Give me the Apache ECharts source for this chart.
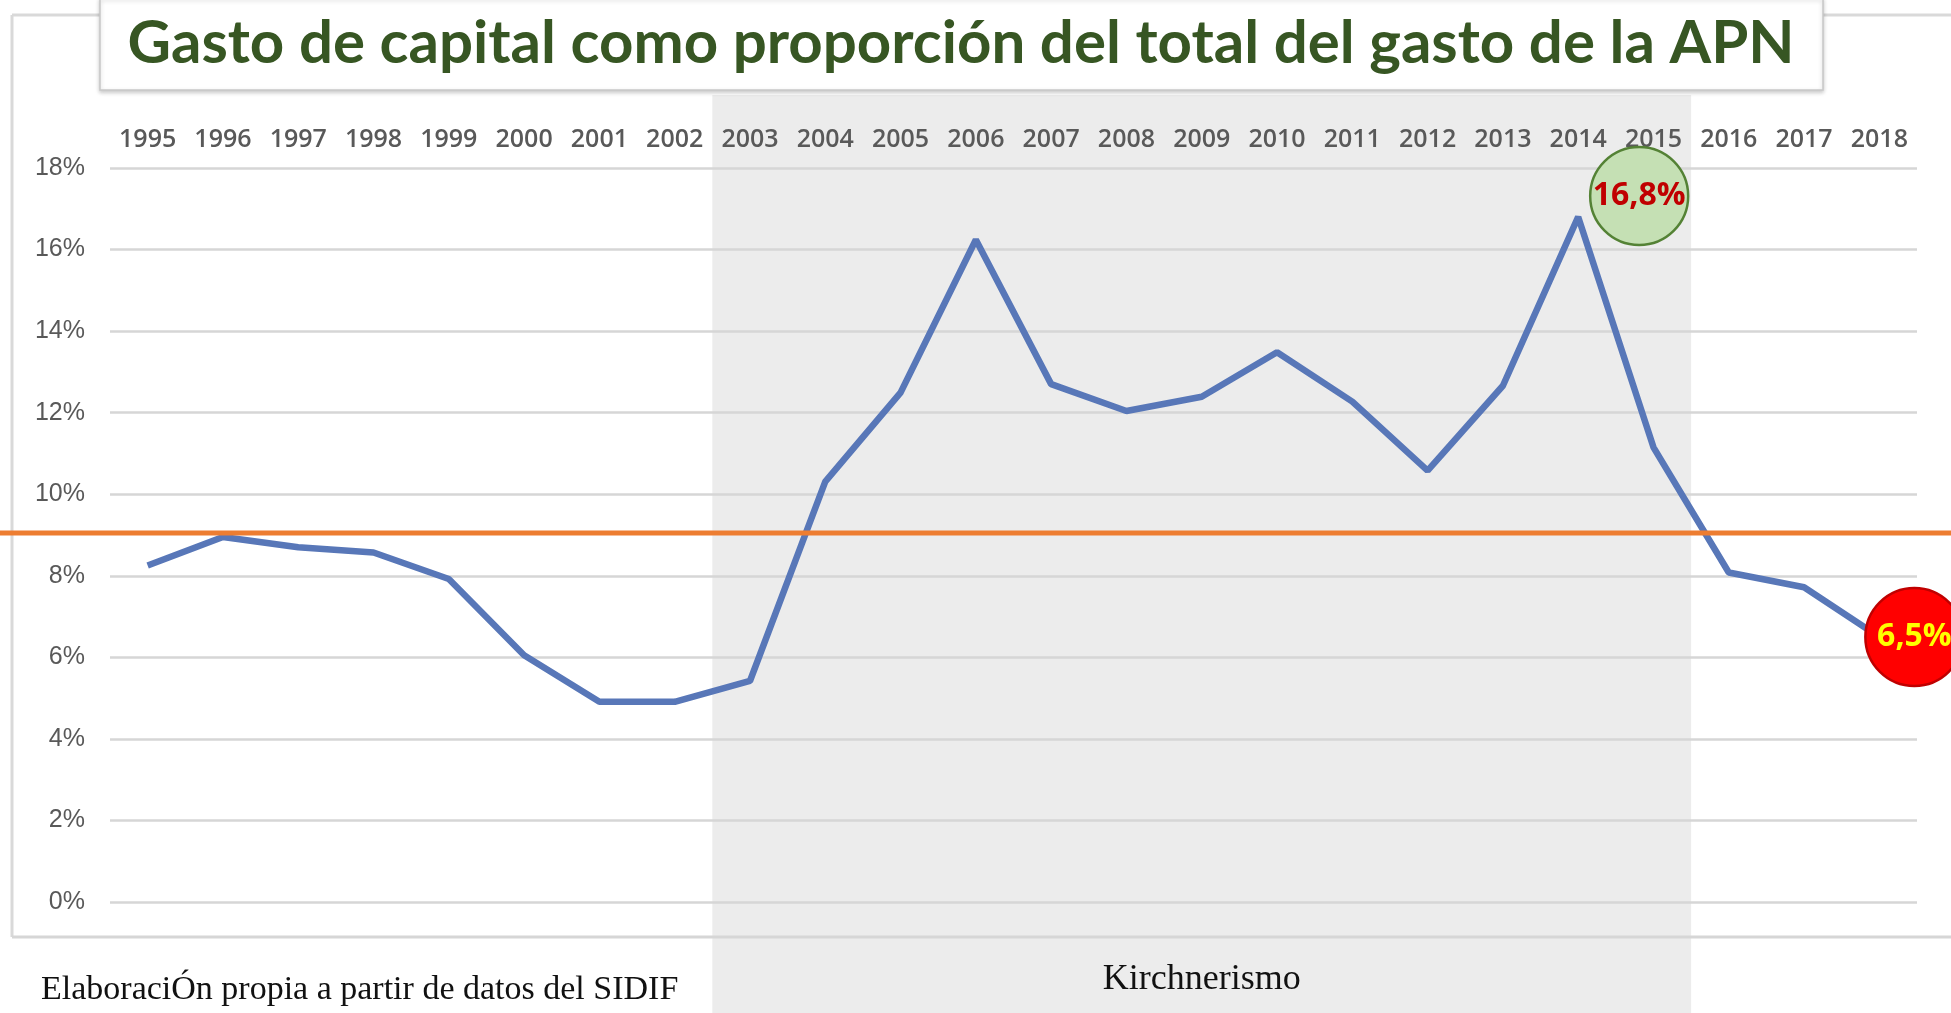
<!DOCTYPE html>
<html>
	<head>
		<meta charset="utf-8">
		<title>Gasto de capital APN</title>
		<script src="https://cdn.jsdelivr.net/npm/echarts@6/dist/echarts.min.js"></script>
		<style type="text/css">
			html, body {
				margin: 0;
				padding: 0;
				background: #ffffff;
			}
			#main {
				width: 1951px;
				height: 1013px;
			}
		</style>
	</head>
	<body>
		<div id="main"></div>
	</body>
</html>

<script type="text/javascript">
	// datos
	var years = ['1995', '1996', '1997', '1998', '1999', '2000', '2001', '2002', '2003', '2004', '2005', '2006',
		'2007', '2008', '2009', '2010', '2011', '2012', '2013', '2014', '2015', '2016', '2017', '2018'];
	var capitalShare = [8.25, 8.95, 8.70, 8.57, 7.92, 6.05, 4.91, 4.91, 5.42, 10.31, 12.49, 16.24,
		12.70, 12.04, 12.39, 13.48, 12.27, 10.58, 12.66, 16.80, 11.15, 8.08, 7.72, 6.50];
	var refLine = 9.05;
	var kirchnerFrom = '2003';
	var kirchnerTo = '2015';
	var peakIdx = 19;
	var lastIdx = 23;

	var titleText = 'Gasto de capital como proporción del total del gasto de la APN';
	var sourceText = 'ElaboraciÓn propia a partir de datos del SIDIF';
	var periodText = 'Kirchnerismo';

	function pct(v) {
		return v.toFixed(1).replace('.', ',') + '%';
	}

	var myChart = echarts.init(document.getElementById('main'), null, { renderer: 'canvas' });

	var option = {
		animation: false,
		backgroundColor: '#ffffff',
		grid: {
			left: 110,
			right: 34,
			top: 168,
			bottom: 111
		},
		xAxis: {
			type: 'category',
			position: 'top',
			data: years,
			boundaryGap: true,
			axisLine: { show: false },
			axisTick: { show: false },
			axisLabel: {
				margin: 16,
				color: '#595959',
				fontFamily: 'Open Sans',
				fontWeight: 600,
				fontSize: 25
			}
		},
		yAxis: {
			type: 'value',
			min: 0,
			max: 18,
			interval: 2,
			axisLine: { show: false },
			axisTick: { show: false },
			axisLabel: {
				margin: 25,
				formatter: '{value}%',
				color: '#595959',
				fontFamily: 'Liberation Sans Narrow, Liberation Sans',
				fontSize: 25
			},
			splitLine: {
				lineStyle: { color: '#d6d6d6', width: 2.5 }
			}
		},
		series: [{
			type: 'line',
			data: capitalShare,
			symbol: 'none',
			z: 3,
			lineStyle: { color: '#5877b8', width: 6.5 },
			markPoint: {
				symbol: 'circle',
				symbolSize: 98,
				data: [
					{
						coord: [years[peakIdx], capitalShare[peakIdx]],
						value: capitalShare[peakIdx],
						symbolOffset: [61, -21],
						itemStyle: { color: '#c5e0b4', borderColor: '#548235', borderWidth: 2.5 },
						label: { color: '#c00000' }
					},
					{
						coord: [years[lastIdx], capitalShare[lastIdx]],
						value: capitalShare[lastIdx],
						symbolOffset: [35, 0],
						itemStyle: { color: '#ff0000', borderColor: '#c00000', borderWidth: 2.5 },
						label: { color: '#ffff00' }
					}
				],
				label: {
					show: true,
					position: 'inside',
					fontFamily: 'Open Sans',
					fontWeight: 'bold',
					fontSize: 32,
					formatter: function (p) { return pct(p.value); }
				}
			}
		}]
	};
	myChart.setOption(option);

	// zona sombreada y linea de referencia a partir de las escalas
	var px0 = myChart.convertToPixel({ xAxisIndex: 0 }, years[0]);
	var band = myChart.convertToPixel({ xAxisIndex: 0 }, years[1]) - px0;
	var shadeL = myChart.convertToPixel({ xAxisIndex: 0 }, kirchnerFrom) - band / 2;
	var shadeR = myChart.convertToPixel({ xAxisIndex: 0 }, kirchnerTo) + band / 2;
	var refY = myChart.convertToPixel({ yAxisIndex: 0 }, refLine);

	myChart.setOption({
		graphic: [
			{
				type: 'rect', z: -10, silent: true,
				shape: { x: shadeL, y: 95, width: shadeR - shadeL, height: 1013 - 95 },
				style: { fill: '#ececec' }
			},
			{
				type: 'line', z: -5, silent: true,
				shape: { x1: 12, y1: 15, x2: 1951, y2: 15 },
				style: { stroke: '#d9d9d9', lineWidth: 3 }
			},
			{
				type: 'line', z: -5, silent: true,
				shape: { x1: 12, y1: 15, x2: 12, y2: 937 },
				style: { stroke: '#d9d9d9', lineWidth: 3 }
			},
			{
				type: 'line', z: -5, silent: true,
				shape: { x1: 12, y1: 937, x2: 1951, y2: 937 },
				style: { stroke: '#d6d6d6', lineWidth: 3 }
			},
			{
				type: 'rect', z: 20, silent: true,
				shape: { x: 100, y: -2, width: 1723, height: 92 },
				style: {
					fill: '#ffffff', stroke: '#c8c8c8', lineWidth: 1.5,
					shadowBlur: 4, shadowOffsetY: 2, shadowColor: 'rgba(0,0,0,0.2)'
				}
			},
			{
				type: 'text', z: 21, silent: true,
				style: {
					text: titleText, x: 961, y: 44,
					align: 'center', verticalAlign: 'middle',
					fontFamily: 'Lato', fontWeight: 'bold', fontSize: 60,
					fill: '#375623'
				}
			},
			{
				type: 'line', z: 10, silent: true,
				shape: { x1: 0, y1: refY, x2: 1951, y2: refY },
				style: { stroke: '#ed7d31', lineWidth: 5 }
			},
			{
				type: 'text', z: 5, silent: true,
				style: {
					text: sourceText, x: 41, y: 990,
					align: 'left', verticalAlign: 'middle',
					fontFamily: 'Liberation Serif', fontSize: 34,
					fill: '#111111'
				}
			},
			{
				type: 'text', z: 5, silent: true,
				style: {
					text: periodText, x: (shadeL + shadeR) / 2, y: 980,
					align: 'center', verticalAlign: 'middle',
					fontFamily: 'Liberation Serif', fontSize: 36,
					fill: '#111111'
				}
			}
		]
	});
</script>
